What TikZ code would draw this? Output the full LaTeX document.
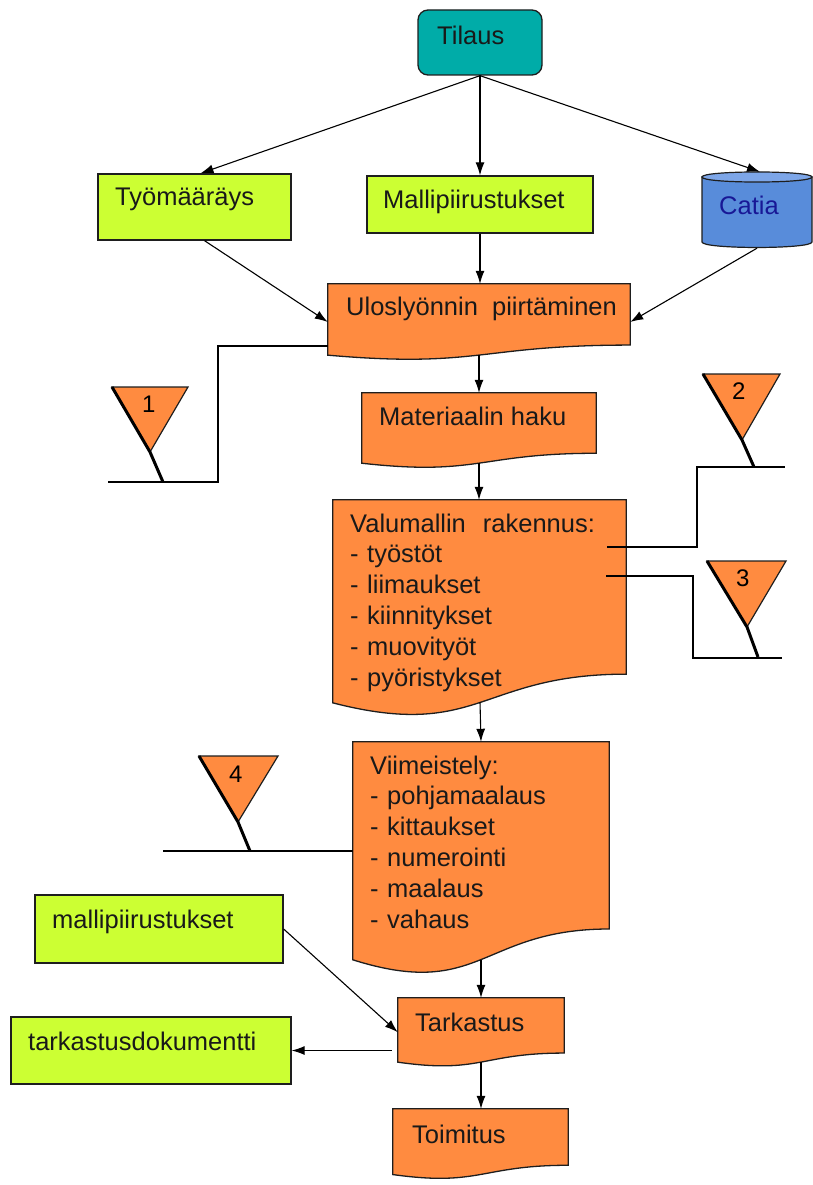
\documentclass[tikz,border=0pt]{standalone}
\usepackage{fontspec}
\setmainfont{Liberation Sans}
\usetikzlibrary{calc,arrows.meta}

\definecolor{tealfill}{RGB}{0,172,168}
\definecolor{limefill}{RGB}{204,255,51}
\definecolor{orangefill}{RGB}{255,139,64}
\definecolor{cylbody}{RGB}{88,140,218}
\definecolor{cyltop}{RGB}{125,166,232}
\definecolor{cyltext}{RGB}{24,24,150}
\definecolor{edgegray}{RGB}{30,30,30}

% Document-style box: flat top, wavy bottom; also names the midpoint of the wave (<name>-b)
\newcommand\docbox[1]{%
  \draw[docshape] (#1.north west) -- (#1.north east)
    -- ($(#1.north east)!0.802!(#1.south east)$)
    .. controls ($(#1.north)!0.802!(#1.south)$) and ($(#1.north)!1.1075!(#1.south)$)
    .. ($(#1.north west)!0.934!(#1.south west)$) coordinate[pos=0.5] (#1-b)
    -- cycle;}

\begin{document}
\begin{tikzpicture}[x=1pt,y=-1pt,
  edgeline/.style={draw=edgegray, line width=1.3pt},
  greenbox/.style={rectangle, fill=limefill, edgeline, inner sep=0pt},
  ghostbox/.style={rectangle, inner sep=0pt},
  docshape/.style={fill=orangefill, edgeline},
  flowarrow/.style={draw=black, line width=1.1pt, -{Latex[length=13pt,width=9pt]}},
  wire/.style={draw=black, line width=1.3pt},
  boxtext/.style={anchor=base west, inner sep=0pt, text=black!90,
    font=\fontsize{25.5}{30.8}\selectfont},
  listtext/.style={boxtext, text width=260pt, align=left},
  flagtri/.style={fill=orangefill, draw=edgegray, line width=1.2pt, line join=miter},
  flagstick/.style={draw=black, line width=3pt, line cap=butt},
  flagnum/.style={anchor=base west, inner sep=0pt, font=\fontsize{24}{28}\selectfont}
]
\useasboundingbox (0,0) rectangle (813,1185);

% ---- boxes ----
\node[rectangle, rounded corners=10pt, fill=tealfill, edgeline,
      minimum width=124pt, minimum height=65pt, inner sep=0pt] (tilaus) at (480,42.5) {};

\node[greenbox, minimum width=193pt, minimum height=66pt] (tyo) at (194.5,207) {};
\node[greenbox, minimum width=226pt, minimum height=57pt] (mal) at (480,204.5) {};
\node[ghostbox, minimum width=110pt, minimum height=76pt] (catia) at (757,210) {};

% Catia drawn as a cylinder
\filldraw[fill=cylbody, draw=edgegray, line width=1.2pt]
  (702,177) -- (702,242) .. controls (702,249.3) and (812,249.3) .. (812,242) -- (812,177) -- cycle;
\filldraw[fill=cyltop, draw=edgegray, line width=1.2pt]
  (702,177) .. controls (702,170.3) and (812,170.3) .. (812,177)
  .. controls (812,183.7) and (702,183.7) .. (702,177) -- cycle;

\node[ghostbox, minimum width=302pt, minimum height=76pt] (ulo) at (479,322) {};
\node[ghostbox, minimum width=234pt, minimum height=75pt] (mat) at (479,430.5) {};
\node[ghostbox, minimum width=293pt, minimum height=217pt] (valu) at (479.5,608.5) {};
\node[ghostbox, minimum width=256pt, minimum height=233pt] (viim) at (481,858.5) {};
\node[ghostbox, minimum width=166pt, minimum height=68.5pt] (tark) at (481,1032.25) {};
\node[ghostbox, minimum width=175pt, minimum height=70pt] (toim) at (480.5,1144) {};
\docbox{ulo}
\docbox{mat}
\docbox{valu}
\docbox{viim}
\docbox{tark}
\docbox{toim}

\node[greenbox, minimum width=248pt, minimum height=68pt] (mp) at (159,929) {};
\node[greenbox, minimum width=280pt, minimum height=67pt] (td) at (151,1050.5) {};

% ---- flags with their lead lines ----
\coordinate (f1l) at (108,482);
\coordinate (f1c) at (218,482);
\draw[wire] (f1l) -- (f1c) |- ([yshift=-24pt]ulo.west);
\draw[flagtri] (112,387) -- (188,387) -- (150,452) -- cycle;
\draw[flagstick] (112,387) -- (150,452) -- (163,482);
\node[flagnum] (n1) at (142,412) {1};

\coordinate (f2c) at (697,467);
\coordinate (f2r) at (785,467);
\draw[wire] ([shift={(-19pt,61.5pt)}]valu.east) -| (f2c) -- (f2r);
\draw[flagtri] (703,374) -- (780,374) -- (742,440) -- cycle;
\draw[flagstick] (703,374) -- (742,440) -- (754,467);
\node[flagnum] (n2) at (732,399) {2};

\coordinate (f3c) at (693,658);
\coordinate (f3r) at (782,658);
\draw[wire] ([shift={(-20pt,32.5pt)}]valu.east) -| (f3c) -- (f3r);
\draw[flagtri] (707,561) -- (786,561) -- (747,627) -- cycle;
\draw[flagstick] (707,561) -- (747,627) -- (758,657);
\node[flagnum] (n3) at (736,586) {3};

\coordinate (f4l) at (163,851);
\draw[wire] (f4l) -- (f4l -| viim.west);
\draw[flagtri] (199,756) -- (278,756) -- (238,822) -- cycle;
\draw[flagstick] (199,756) -- (238,822) -- (250,851);
\node[flagnum] (n4) at (229,782) {4};

% ---- texts ----
\node[boxtext] (tilaus-t) at (437,45) {Tilaus};
\node[boxtext] (tyo-t) at (115,205) {Työmääräys};
\node[boxtext] (mal-t) at (383,208) {Mallipiirustukset};
\node[boxtext, text=cyltext] (catia-t) at (719,214) {Catia};
\node[boxtext] (ulo-t) at (346,315) {Uloslyönnin\ \ piirtäminen};
\node[boxtext] (mat-t) at (379,425) {Materiaalin haku};
\node[listtext] (valu-t) at (350,532) {Valumallin\ \ rakennus:\\- työstöt\\- liimaukset\\- kiinnitykset\\- muovityöt\\- pyöristykset};
\node[listtext] (viim-t) at (370,774) {Viimeistely:\\- pohjamaalaus\\- kittaukset\\- numerointi\\- maalaus\\- vahaus};
\node[boxtext] (mp-t) at (52,928) {mallipiirustukset};
\node[boxtext] (td-t) at (28,1050) {tarkastusdokumentti};
\node[boxtext] (tark-t) at (415,1031) {Tarkastus};
\node[boxtext] (toim-t) at (412,1143) {Toimitus};

% ---- connectors ----
\draw[flowarrow] (tilaus.south) -- ([xshift=6pt]tyo.north);
\draw[flowarrow] (tilaus.south) -- (mal.north);
\draw[flowarrow] (tilaus.south) -- ([xshift=3pt]catia.north);
\draw[flowarrow] ([xshift=10pt]tyo.south) -- (ulo.west);
\draw[flowarrow] (mal.south) -- (mal.south |- ulo.north);
\draw[flowarrow] (catia.south) -- (ulo.east);
\draw[flowarrow] (ulo-b) -- (ulo-b |- mat.north);
\draw[flowarrow] (mat-b) -- (mat-b |- valu.north);
\draw[flowarrow] ([shift={(0.5pt,15pt)}]valu.south) -- (viim.north);
\draw[flowarrow] (viim-b) -- (viim-b |- tark.north);
\draw[flowarrow] (tark-b) -- (tark-b |- toim.north);
\draw[flowarrow] (mp.east) -- (tark.west);
\draw[flowarrow, shorten <=6pt] (tark.west |- td.east) -- (td.east);
\end{tikzpicture}
\end{document}
